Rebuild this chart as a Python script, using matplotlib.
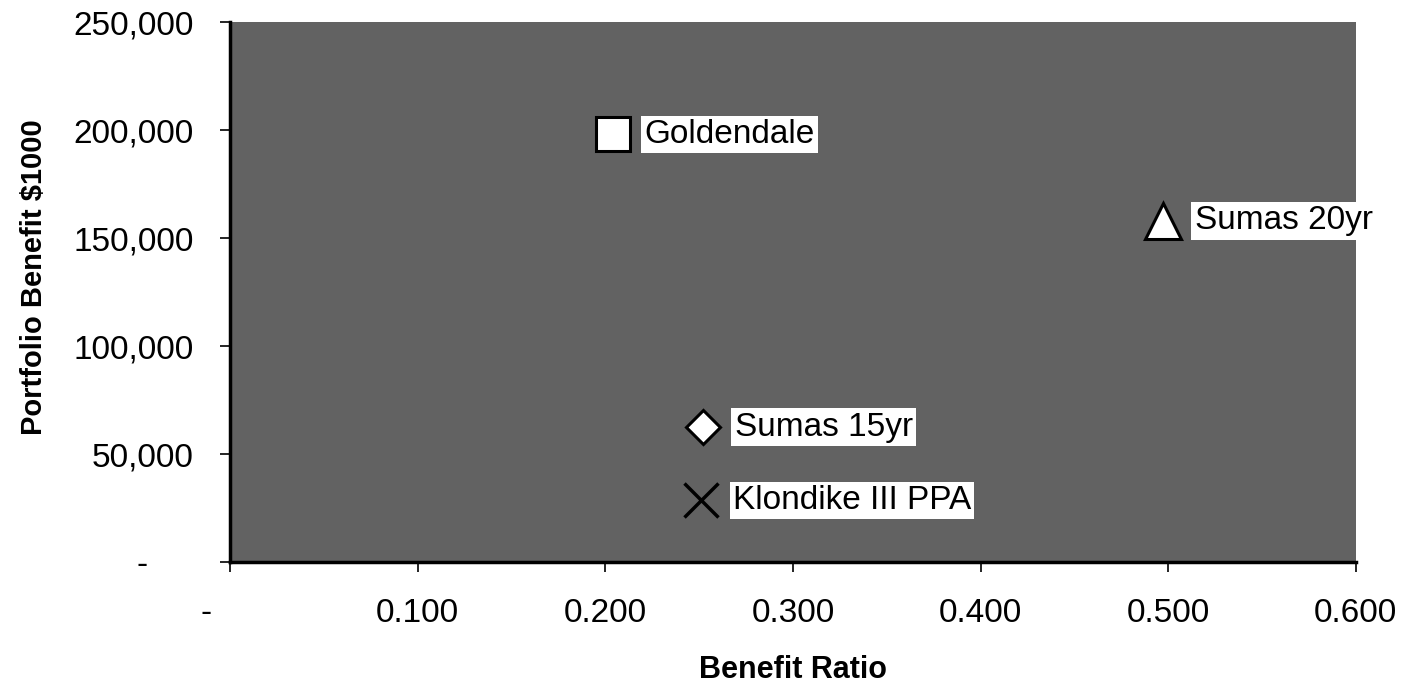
import numpy as np
import matplotlib.pyplot as plt
from matplotlib.ticker import FuncFormatter

plt.rcParams['font.family'] = ['Liberation Sans', 'DejaVu Sans']

# values
names = ['Goldendale', 'Sumas 20yr', 'Sumas 15yr', 'Klondike III PPA']
benefit_ratio = [0.204, 0.497, 0.252, 0.251]
portfolio_benefit = [198000, 158000, 62500, 28500]
markers = ['s', '^', 'D', 'x']
marker_sizes = [24, 26, 17, 24]

x_ticks = [0.0, 0.1, 0.2, 0.3, 0.4, 0.5, 0.6]
y_ticks = [0, 50000, 100000, 150000, 200000, 250000]


# excel style: zero shown as a dash, padded like the accounting format
def fmt_x(v, pos):
    return '-     ' if abs(v) < 1e-9 else f'{v:.3f}'


def fmt_y(v, pos):
    return '-     ' if abs(v) < 1e-9 else f'{v:,.0f}'


def main():
    fig = plt.figure(figsize=(14.05, 6.93), dpi=100)
    ax = fig.add_axes([0.1637, 0.189, 0.8013, 0.779])
    ax.set_facecolor('#626262')

    for x, y, m, ms, name in zip(benefit_ratio, portfolio_benefit, markers, marker_sizes, names):
        if m == 'x':
            ax.plot(x, y, marker=m, ms=ms, mew=2.5, color='black', ls='none', zorder=3)
        else:
            ax.plot(x, y, marker=m, ms=ms, mfc='white', mec='black', mew=2.2, ls='none', zorder=3)
        ax.annotate(name, (x, y), xytext=(23, 0), textcoords='offset points',
                    ha='left', va='center', fontsize=24, zorder=4,
                    bbox=dict(boxstyle='square,pad=0.1', fc='white', ec='none'))

    ax.set_xlim(0, 0.6)
    ax.set_ylim(0, 250000)
    ax.set_xticks(x_ticks)
    ax.set_yticks(y_ticks)
    ax.xaxis.set_major_formatter(FuncFormatter(fmt_x))
    ax.yaxis.set_major_formatter(FuncFormatter(fmt_y))
    ax.tick_params(axis='both', labelsize=24, length=7, width=1.2, direction='out')
    ax.tick_params(axis='y', pad=19)
    ax.tick_params(axis='x', pad=19)

    for s in ['top', 'right']:
        ax.spines[s].set_visible(False)
    for s in ['left', 'bottom']:
        ax.spines[s].set_linewidth(2.5)

    ax.set_xlabel('Benefit Ratio', fontsize=22, fontweight='bold')
    ax.xaxis.set_label_coords(0.5, -0.172)
    ax.set_ylabel('Portfolio Benefit $1000', fontsize=21, fontweight='bold')
    ax.yaxis.set_label_coords(-0.1616, 0.528)

    fig.savefig('out.png', dpi=100)


if __name__ == '__main__':
    main()
